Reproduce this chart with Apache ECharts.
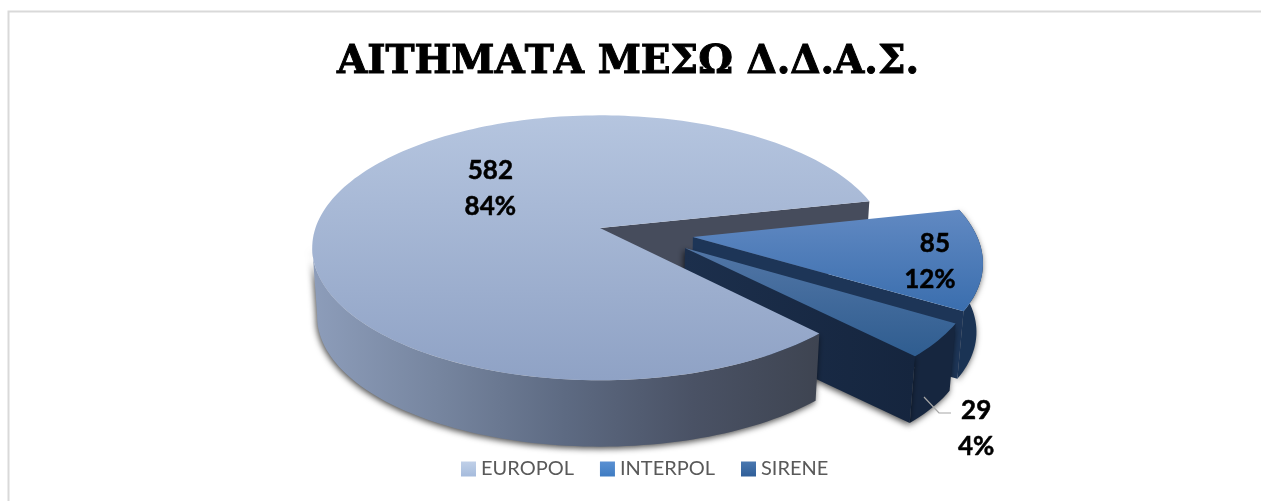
<!DOCTYPE html>
<html>
<head>
<meta charset="utf-8">
<style>html,body{margin:0;padding:0;background:#fff}#c{width:1261px;height:501px}</style>
<script src="https://cdn.jsdelivr.net/npm/echarts@6/dist/echarts.min.js"></script>
</head>
<body>
<div id="c"></div>
<script>
// ---- data ----
const categories = ['EUROPOL', 'INTERPOL', 'SIRENE'];
const values = [582, 85, 29];
const titleText = 'ΑΙΤΗΜΑΤΑ ΜΕΣΩ Δ.Δ.Α.Σ.';

// ---- projection of the tilted pie ----
const CX = 600, CY = 228, RX = 285.7, KY = 130, P = 0.15;
const BOTTOM_SCALE = 0.983, DEPTH = 69;
const START_ANGLE = 46.6;
const total = values.reduce((a, b) => a + b, 0);
const EXPLODE = [[0, 0], [0.322, 0.0683], [0.2908, 0.1506]];
const RIM = [0.996, 0.985, 0.975];
const LABEL_POLAR = [[218, 0.51], [13, 0.81], [54.8, 1.35]];

const angles = [];
let acc = START_ANGLE;
values.forEach(v => { angles.push([acc, acc + v / total * 360]); acc += v / total * 360; });

function project(wx, wy, bottom) {
  const d = 1 - P * wy;
  const k = bottom ? BOTTOM_SCALE : 1;
  return [CX + k * RX * wx / d, CY + (bottom ? DEPTH : 0) + k * KY * wy / d];
}
function rim(i, deg, bottom, r) {
  const a = deg * Math.PI / 180, e = EXPLODE[i], q = r === undefined ? RIM[i] : r;
  return project(e[0] + q * Math.cos(a), e[1] + q * Math.sin(a), bottom);
}
function arc(i, from, to, bottom) {
  const pts = [], n = Math.max(4, Math.ceil(Math.abs(to - from) / 1.5));
  for (let k = 0; k <= n; k++) pts.push(rim(i, from + (to - from) * k / n, bottom));
  return pts;
}
const apex = (i, bottom) => project(EXPLODE[i][0], EXPLODE[i][1], bottom);

const V = (c0, c1) => new echarts.graphic.LinearGradient(0, 0, 0, 1, [{offset: 0, color: c0}, {offset: 1, color: c1}]);
const H = (stops) => new echarts.graphic.LinearGradient(0, 0, 1, 0, stops.map((c, i) => ({offset: i / (stops.length - 1), color: c})));
const poly = (points, fill, extra) => ({type: 'polygon', silent: true, shape: {points}, style: Object.assign({fill}, extra || {})});

const SHADOW = {shadowBlur: 6, shadowColor: 'rgba(0,0,0,0.7)', shadowOffsetX: -1, shadowOffsetY: 2};
const topFill = [V('#b5c5df', '#8fa2c5'), V('#6189c2', '#3a6eae'), V('#5276a6', '#2f5d90')];
const swatch = [V('#c0d0e8', '#a5bbdc'), V('#5a90d2', '#3f7cc2'), V('#4a78b0', '#2f5e98')];

function labelEls(i, value) {
  const pol = LABEL_POLAR[i], a = pol[0] * Math.PI / 180;
  const p = project(EXPLODE[i][0] + pol[1] * Math.cos(a), EXPLODE[i][1] + pol[1] * Math.sin(a), false);
  const font = 'bold 26px Lato';
  const pct = Math.round(value / total * 100) + '%';
  const common = {font, fill: '#000', align: 'center', verticalAlign: 'middle', stroke: '#000', lineWidth: 0.5};
  const shift = i === 1 ? 5 : 0;
  return [
    {type: 'text', silent: true, style: Object.assign({text: String(value), x: p[0] + shift, y: p[1] - 18}, common)},
    {type: 'text', silent: true, style: Object.assign({text: pct, x: p[0], y: p[1] + 18}, common)}
  ];
}

// painted first: the cut face of the big slice, behind the exploded ones
function renderBackFace() {
  const i = 0, e = angles[0][1];
  return {type: 'group', children: [
    poly([apex(0, false), rim(i, e, false), rim(i, e, true), apex(0, true)], '#464c5c')
  ]};
}
function renderSlice(i, api) {
  const value = api.value(0);
  const [a0, a1] = angles[i];
  const kids = [];
  if (i === 0) {
    const wall = arc(0, a0, 172, false).concat(arc(0, a0, 172, true).reverse());
    kids.push(poly(wall, H(['#8d9dba', '#76859f', '#5d6a82', '#4a5265', '#3e4451']), SHADOW));
    kids.push(poly(arc(0, a0, a1, false).concat([apex(0, false)]), topFill[0]));
  } else {
    const near = a1;
    const outer = arc(i, a0, a1, false).concat(arc(i, a0, a1, true).reverse());
    const cut = [apex(i, false), rim(i, near, false), rim(i, near, true), apex(i, true)];
    const wallCol = i === 1 ? '#1a3354' : '#16263f';
    kids.push(poly(outer, wallCol, SHADOW));
    kids.push(poly(cut, i === 1 ? '#1d3557' : H(['#1c2f4c', '#15253e']), i === 2 ? SHADOW : null));
    kids.push(poly(arc(i, a0, a1, false).concat([apex(i, false)]), topFill[i]));
  }
  kids.push.apply(kids, labelEls(i, value));
  if (i === 2) {
    const t = rim(2, a1 - 3, true, 0.94);
    kids.push({type: 'polyline', silent: true,
      shape: {points: [[t[0] + 14, t[1] - 16], [t[0] + 29, t[1]], [t[0] + 41, t[1]]]},
      style: {stroke: '#a6a6a6', lineWidth: 1.2, fill: null}});
  }
  return {type: 'group', children: kids};
}

const mk = (i) => ({
  type: 'custom', name: categories[i], coordinateSystem: 'none',
  silent: true, animation: false,
  renderItem: (params, api) => renderSlice(i, api), data: [[values[i]]]
});

const chart = echarts.init(document.getElementById('c'), null, {renderer: 'canvas'});
chart.setOption({
  animation: false,
  backgroundColor: '#fff',
  title: {
    text: titleText, left: 332, top: 38,
    textStyle: {fontFamily: 'DejaVu Serif', fontWeight: 'bold', fontSize: 39, color: '#000',
      textBorderColor: '#000', textBorderWidth: 1}
  },
  legend: {
    left: 461, top: 459, padding: 0, itemWidth: 15, itemHeight: 15, itemGap: 26, icon: 'rect',
    textStyle: {fontFamily: 'Lato', fontSize: 20, color: '#595959'},
    data: categories.map((name, i) => ({name, icon: 'rect', itemStyle: {color: swatch[i]}}))
  },
  graphic: [{type: 'rect', silent: true, z: -1,
    shape: {x: 8.5, y: 11.5, width: 1400, height: 700},
    style: {fill: null, stroke: '#d9d9d9', lineWidth: 2}}],
  series: [
    {type: 'custom', name: 'EUROPOL cut', coordinateSystem: 'none', silent: true, animation: false,
     renderItem: renderBackFace, data: [[values[0]]]},
    mk(1), mk(2), mk(0)
  ]
});
</script>
</body>
</html>
